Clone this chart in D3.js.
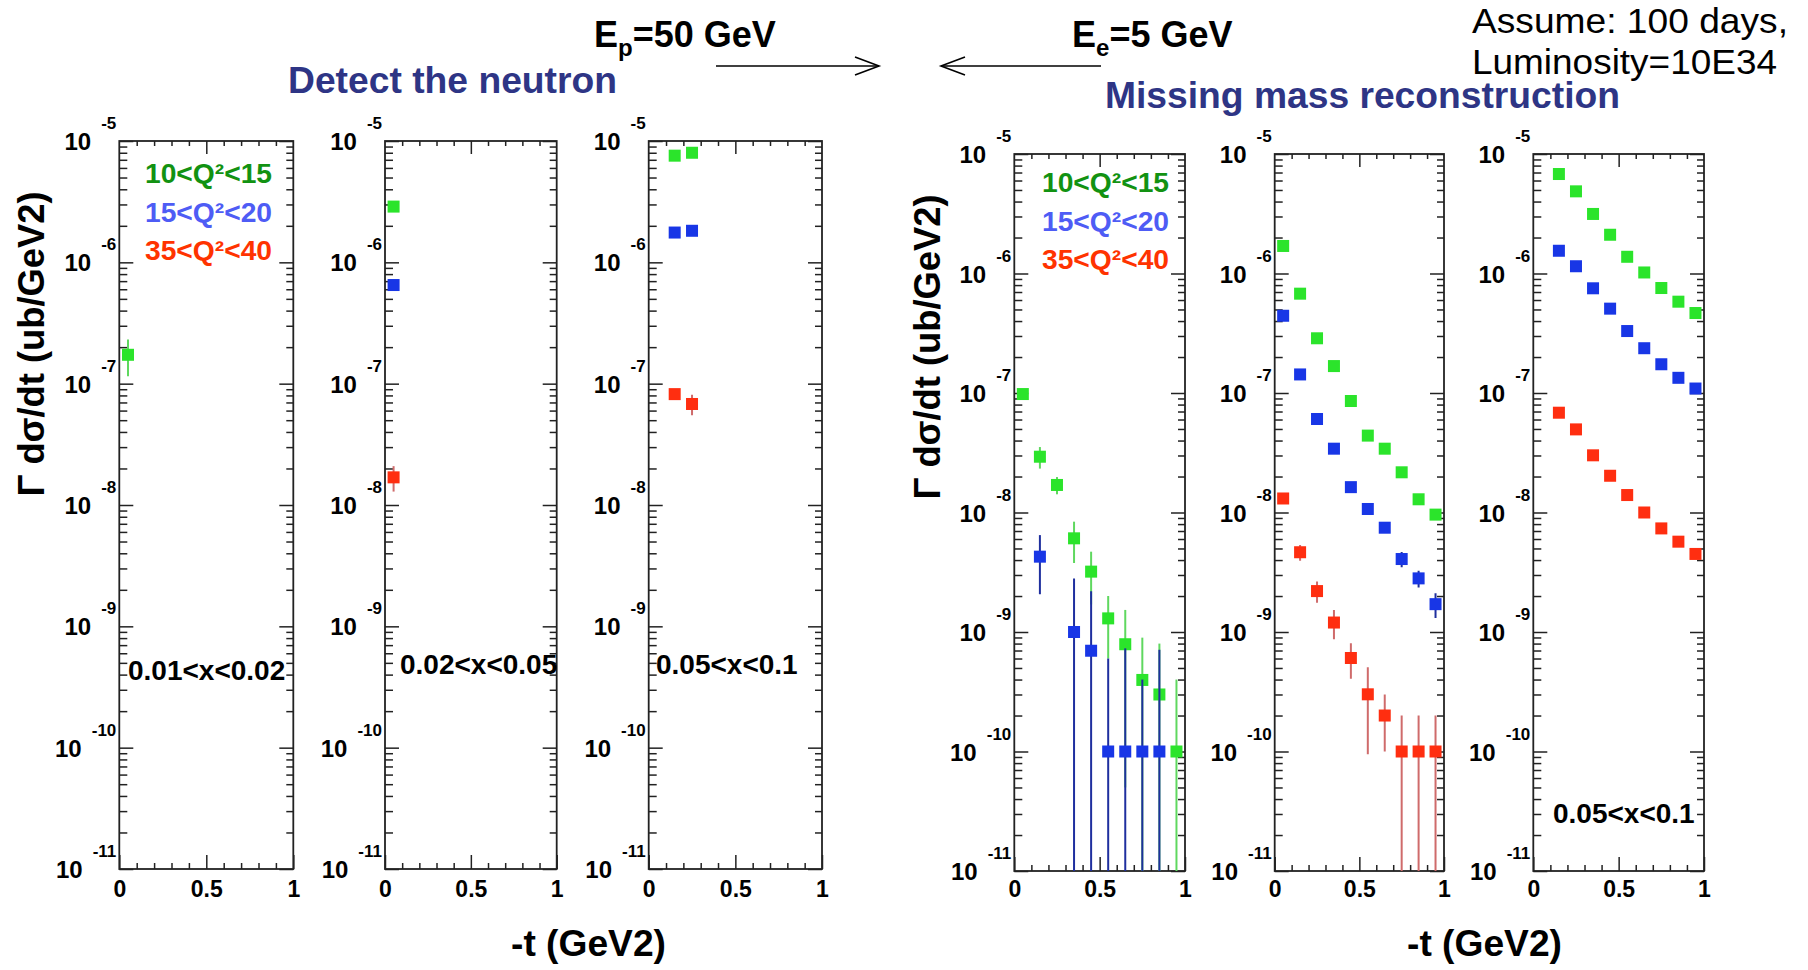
<!DOCTYPE html>
<html><head><meta charset="utf-8">
<script src="https://cdn.jsdelivr.net/npm/d3@7"></script>
<style>
html,body{margin:0;padding:0;background:#fff;}
svg{display:block;font-family:"Liberation Sans",Arial,Helvetica,sans-serif;}
</style></head><body>
<svg id="chart" width="1808" height="970"></svg>
<script>
// ---------------- DATA ----------------
const tBins = [0.05, 0.15, 0.25, 0.35, 0.45, 0.55, 0.65, 0.75, 0.85, 0.95];
const q2Labels = ["10<Q²<15", "15<Q²<20", "35<Q²<40"];
const xBinLabels = ["0.01<x<0.02", "0.02<x<0.05", "0.05<x<0.1", "", "", "0.05<x<0.1"];
const yExponents = [-5, -6, -7, -8, -9, -10, -11];
const xTickValues = [0, 0.5, 1];
const xTickLabels = ["0", "0.5", "1"];
const N = null;

// Detect the neutron, 0.01<x<0.02
const neutA_q10 = [1.73e-7, N, N, N, N, N, N, N, N, N];
const neutA_q10e = [5.8e-8, N, N, N, N, N, N, N, N, N];
const neutA_q15 = [N, N, N, N, N, N, N, N, N, N];
const neutA_q15e = [N, N, N, N, N, N, N, N, N, N];
const neutA_q35 = [N, N, N, N, N, N, N, N, N, N];
const neutA_q35e = [N, N, N, N, N, N, N, N, N, N];
// Detect the neutron, 0.02<x<0.05
const neutB_q10 = [2.88e-6, N, N, N, N, N, N, N, N, N];
const neutB_q10e = [1e-8, N, N, N, N, N, N, N, N, N];
const neutB_q15 = [6.5e-7, N, N, N, N, N, N, N, N, N];
const neutB_q15e = [5e-9, N, N, N, N, N, N, N, N, N];
const neutB_q35 = [1.69e-8, N, N, N, N, N, N, N, N, N];
const neutB_q35e = [4e-9, N, N, N, N, N, N, N, N, N];
// Detect the neutron, 0.05<x<0.1
const neutC_q10 = [N, 7.57e-6, 8.0e-6, N, N, N, N, N, N, N];
const neutC_q10e = [N, 3e-8, 3e-8, N, N, N, N, N, N, N];
const neutC_q15 = [N, 1.76e-6, 1.82e-6, N, N, N, N, N, N, N];
const neutC_q15e = [N, 1e-8, 1e-8, N, N, N, N, N, N, N];
const neutC_q35 = [N, 8.2e-8, 6.8e-8, N, N, N, N, N, N, N];
const neutC_q35e = [N, 3e-9, 1.3e-8, N, N, N, N, N, N, N];
// Missing mass, first x bin
const missD_q10 = [9.8e-8, 2.93e-8, 1.70e-8, 6.08e-9, 3.2e-9, 1.30e-9, 7.9e-10, 3.97e-10, 3.0e-10, 1.0e-10];
const missD_q10e = [3e-9, 6e-9, 2.8e-9, 2.3e-9, 1.5e-9, 7e-10, 7.4e-10, 5.0e-10, 5.0e-10, 3e-10];
const missD_q15 = [N, 4.27e-9, N, 1.0e-9, 6.97e-10, 1e-10, 1e-10, 1e-10, 1e-10, N];
const missD_q15e = [N, 2.2e-9, N, 1.8e-9, 1.5e-9, 5e-10, 6.3e-10, 3e-10, 6.1e-10, N];
const missD_q35 = [N, N, N, N, N, N, N, N, N, N];
const missD_q35e = [N, N, N, N, N, N, N, N, N, N];
// Missing mass, second x bin
const missE_q10 = [1.70e-6, 6.78e-7, 2.87e-7, 1.68e-7, 8.57e-8, 4.40e-8, 3.42e-8, 2.17e-8, 1.29e-8, 9.6e-9];
const missE_q10e = [1.5e-8, 8e-9, 4e-9, 3e-9, 2e-9, 1.2e-9, 1e-9, 8e-10, 6e-10, 5e-10];
const missE_q15 = [4.43e-7, 1.43e-7, 6.06e-8, 3.42e-8, 1.63e-8, 1.07e-8, 7.46e-9, 4.08e-9, 2.81e-9, 1.71e-9];
const missE_q15e = [6e-9, 3e-9, 1.5e-9, 1e-9, 6e-10, 5e-10, 5e-10, 6e-10, 4.5e-10, 4e-10];
const missE_q35 = [1.31e-8, 4.65e-9, 2.2e-9, 1.2e-9, 6.06e-10, 3.01e-10, 2.0e-10, 1e-10, 1e-10, 1e-10];
const missE_q35e = [4e-10, 7e-10, 4.4e-10, 3.3e-10, 2e-10, 2.06e-10, 1e-10, 1e-10, 1e-10, 1e-10];
// Missing mass, 0.05<x<0.1
const missF_q10 = [N, 6.8e-6, 4.87e-6, 3.15e-6, 2.11e-6, 1.38e-6, 1.02e-6, 7.56e-7, 5.81e-7, 4.67e-7];
const missF_q10e = [N, 3e-8, 2e-8, 1.5e-8, 1e-8, 8e-9, 6e-9, 5e-9, 4e-9, 4e-9];
const missF_q15 = [N, 1.55e-6, 1.15e-6, 7.52e-7, 5.08e-7, 3.30e-7, 2.37e-7, 1.74e-7, 1.34e-7, 1.09e-7];
const missF_q15e = [N, 1e-8, 8e-9, 6e-9, 4e-9, 3e-9, 2.5e-9, 2e-9, 1.5e-9, 1.5e-9];
const missF_q35 = [N, 6.84e-8, 4.96e-8, 3.01e-8, 2.03e-8, 1.40e-8, 1.0e-8, 7.36e-9, 5.7e-9, 4.5e-9];
const missF_q35e = [N, 1e-9, 8e-10, 6e-10, 4e-10, 3e-10, 2.5e-10, 2e-10, 1.5e-10, 1.5e-10];

const panelValues = [
  [neutA_q10, neutA_q15, neutA_q35], [neutB_q10, neutB_q15, neutB_q35], [neutC_q10, neutC_q15, neutC_q35],
  [missD_q10, missD_q15, missD_q35], [missE_q10, missE_q15, missE_q35], [missF_q10, missF_q15, missF_q35]
];
const panelErrors = [
  [neutA_q10e, neutA_q15e, neutA_q35e], [neutB_q10e, neutB_q15e, neutB_q35e], [neutC_q10e, neutC_q15e, neutC_q35e],
  [missD_q10e, missD_q15e, missD_q35e], [missE_q10e, missE_q15e, missE_q35e], [missF_q10e, missF_q15e, missF_q35e]
];

// ---------------- LAYOUT / STYLE ----------------
const layout = [
  {x0: 119.3, x1: 293.3, y0: 141, y1: 869, lx: 128, ly: 680, legend: [145, 183]},
  {x0: 385, x1: 556.7, y0: 141, y1: 869, lx: 400, ly: 674},
  {x0: 648.7, x1: 822, y0: 141, y1: 869, lx: 656, ly: 674},
  {x0: 1014.3, x1: 1185, y0: 154, y1: 871, legend: [1042, 192]},
  {x0: 1274.7, x1: 1444, y0: 154, y1: 871},
  {x0: 1533.3, x1: 1704, y0: 154, y1: 871, lx: 1553, ly: 823}
];
const markerColors = ["#2be42b", "#1836e6", "#ff2e10"];
const errColors = ["#5fd85f", "#1f2f9e", "#cf6b6b"];
const legendColors = ["#129212", "#4e5cf5", "#ff3300"];
const AX = "#222";

const svg = d3.select("#chart");
svg.append("rect").attr("width", 1808).attr("height", 970).attr("fill", "#fff");

const majorY = yExponents.map(e => Math.pow(10, e));
const minorY = [];
for (let e = -11; e <= -6; e++) for (let m = 2; m <= 9; m++) minorY.push(m * Math.pow(10, e));
const minorX = d3.range(1, 10).filter(k => k !== 5).map(k => k / 10);

function styleAxis(sel) {
  sel.select(".domain").remove();
  sel.selectAll(".tick line").attr("stroke", AX).attr("stroke-width", 1.5);
}

layout.forEach((p, i) => {
  const x = d3.scaleLinear().domain([0, 1]).range([p.x0, p.x1]);
  const y = d3.scaleLog().domain([1e-11, 1e-5]).range([p.y1, p.y0]);
  const g = svg.append("g");

  // ticks
  g.append("g").attr("transform", `translate(${p.x0},0)`).call(d3.axisLeft(y).tickValues(majorY).tickSize(-14).tickFormat("")).call(styleAxis);
  g.append("g").attr("transform", `translate(${p.x0},0)`).call(d3.axisLeft(y).tickValues(minorY).tickSize(-8).tickFormat("")).call(styleAxis);
  g.append("g").attr("transform", `translate(${p.x1},0)`).call(d3.axisRight(y).tickValues(majorY).tickSize(-14).tickFormat("")).call(styleAxis);
  g.append("g").attr("transform", `translate(${p.x1},0)`).call(d3.axisRight(y).tickValues(minorY).tickSize(-7).tickFormat("")).call(styleAxis);
  g.append("g").attr("transform", `translate(0,${p.y1})`).call(d3.axisBottom(x).tickValues(minorX).tickSize(-6).tickFormat("")).call(styleAxis);
  g.append("g").attr("transform", `translate(0,${p.y0})`).call(d3.axisTop(x).tickValues(minorX).tickSize(-5).tickFormat("")).call(styleAxis);
  g.append("g").attr("transform", `translate(0,${p.y0})`).call(d3.axisTop(x).tickValues([0.5]).tickSize(-13).tickFormat("")).call(styleAxis);
  const bx = g.append("g").attr("transform", `translate(0,${p.y1})`)
    .call(d3.axisBottom(x).tickValues(xTickValues).tickSize(-14).tickPadding(897 - p.y1 - 16.5)
      .tickFormat((d, k) => xTickLabels[k])).call(styleAxis);
  bx.selectAll("text").attr("font-family", '"Liberation Sans",Arial,sans-serif').attr("font-size", 23)
    .attr("font-weight", "bold").attr("fill", "#000");

  // y tick labels
  const yl = g.append("g").selectAll("text").data(yExponents).join("text")
    .attr("x", p.x0 - 3).attr("y", d => y(Math.pow(10, d)) + 9)
    .attr("text-anchor", "end").attr("font-weight", "bold").attr("fill", "#000");
  yl.append("tspan").attr("font-size", 24).text("10");
  yl.append("tspan").attr("font-size", 17).attr("dx", 10).attr("dy", -21).text(d => String(d));

  // frame
  g.append("rect").attr("x", p.x0).attr("y", p.y0).attr("width", p.x1 - p.x0).attr("height", p.y1 - p.y0)
    .attr("fill", "none").attr("stroke", AX).attr("stroke-width", 1.8);

  // clip
  const cid = "clip" + i;
  svg.append("clipPath").attr("id", cid).append("rect")
    .attr("x", p.x0).attr("y", p.y0).attr("width", p.x1 - p.x0).attr("height", p.y1 - p.y0);

  // data
  panelValues[i].forEach((vals, s) => {
    const errs = panelErrors[i][s];
    const pts = tBins.map((t, k) => ({t, v: vals[k], e: errs[k]})).filter(d => d.v != null);
    const sg = g.append("g");
    sg.append("g").attr("clip-path", `url(#${cid})`).selectAll("line").data(pts).join("line")
      .attr("x1", d => x(d.t)).attr("x2", d => x(d.t))
      .attr("y1", d => y(d.v + d.e))
      .attr("y2", d => (d.v - d.e) > 1e-11 ? y(d.v - d.e) : p.y1 + 2)
      .attr("stroke", errColors[s]).attr("stroke-width", 2);
    sg.append("g").selectAll("rect").data(pts).join("rect")
      .attr("x", d => x(d.t) - 6).attr("y", d => y(d.v) - 6)
      .attr("width", 12).attr("height", 12).attr("fill", markerColors[s]);
  });

  // legend
  if (p.legend) {
    g.append("g").selectAll("text").data(q2Labels).join("text")
      .attr("x", p.legend[0]).attr("y", (d, k) => p.legend[1] + k * 38.5)
      .attr("font-size", 27).attr("font-weight", "bold").attr("fill", (d, k) => legendColors[k])
      .attr("textLength", 127).attr("lengthAdjust", "spacingAndGlyphs").text(d => d);
  }
  if (xBinLabels[i]) {
    g.append("text").attr("x", p.lx).attr("y", p.ly).attr("font-size", 28).attr("font-weight", "bold")
      .attr("fill", "#000").text(xBinLabels[i]);
  }
});

// axis titles
const yTitles = [[44, 344], [940, 347]];
yTitles.forEach(([tx, ty]) => {
  svg.append("text").attr("transform", `translate(${tx},${ty}) rotate(-90)`).attr("text-anchor", "middle")
    .attr("font-size", 36).attr("font-weight", "bold").attr("fill", "#000")
    .attr("textLength", 305).attr("lengthAdjust", "spacingAndGlyphs").text("Γ dσ/dt (ub/GeV2)");
});
[[511, 956], [1407, 956]].forEach(([tx, ty]) => {
  svg.append("text").attr("x", tx).attr("y", ty).attr("font-size", 36).attr("font-weight", "bold")
    .attr("fill", "#000").attr("textLength", 155).attr("lengthAdjust", "spacingAndGlyphs").text("-t (GeV2)");
});

// headers
svg.append("text").attr("x", 288).attr("y", 93).attr("font-size", 36).attr("font-weight", "bold")
  .attr("fill", "#2e3585").attr("textLength", 329).attr("lengthAdjust", "spacingAndGlyphs").text("Detect the neutron");
svg.append("text").attr("x", 1105).attr("y", 108).attr("font-size", 36).attr("font-weight", "bold")
  .attr("fill", "#2e3585").attr("textLength", 515).attr("lengthAdjust", "spacingAndGlyphs").text("Missing mass reconstruction");

function beam(x0, sub, rest) {
  const t = svg.append("text").attr("x", x0).attr("y", 47).attr("font-size", 36).attr("font-weight", "bold").attr("fill", "#000");
  t.append("tspan").text("E");
  t.append("tspan").attr("font-size", 24).attr("dy", 9).text(sub);
  t.append("tspan").attr("dy", -9).text(rest);
}
beam(594, "p", "=50 GeV");
beam(1072, "e", "=5 GeV");

// arrows
const arrows = [[716, 879, 66], [1101, 941, 66]];
arrows.forEach(([a, b, yy]) => {
  const dir = Math.sign(b - a);
  svg.append("line").attr("x1", a).attr("x2", b).attr("y1", yy).attr("y2", yy).attr("stroke", "#000").attr("stroke-width", 1.6);
  svg.append("path").attr("d", `M${b - dir * 24},${yy - 9} L${b},${yy} L${b - dir * 24},${yy + 9}`)
    .attr("fill", "none").attr("stroke", "#000").attr("stroke-width", 1.6);
});

svg.append("text").attr("x", 1472).attr("y", 33).attr("font-size", 35).attr("fill", "#000")
  .attr("textLength", 316).attr("lengthAdjust", "spacingAndGlyphs").text("Assume: 100 days,");
svg.append("text").attr("x", 1472).attr("y", 74).attr("font-size", 35).attr("fill", "#000")
  .attr("textLength", 305).attr("lengthAdjust", "spacingAndGlyphs").text("Luminosity=10E34");
</script>
</body></html>
